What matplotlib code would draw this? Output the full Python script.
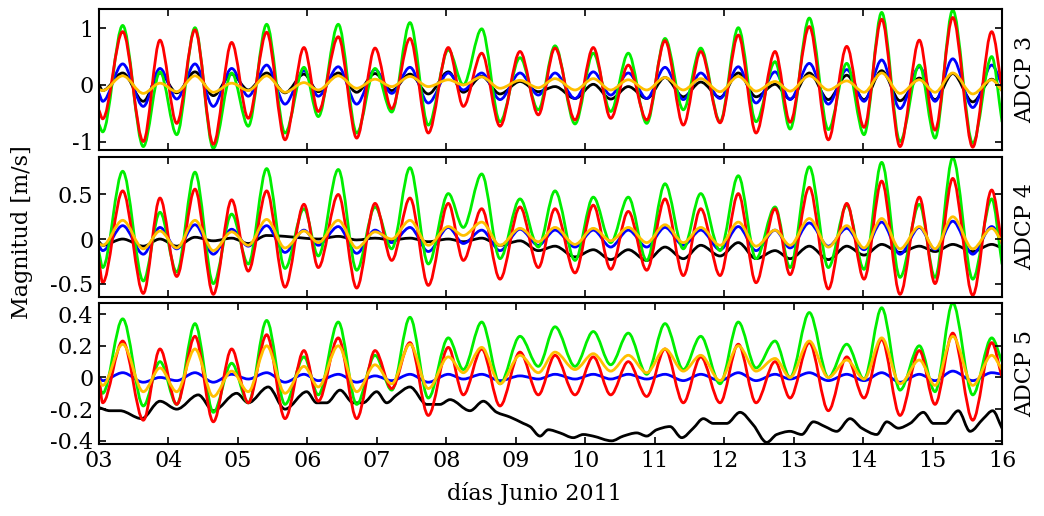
import numpy as np
import matplotlib
matplotlib.use('Agg')
import matplotlib.pyplot as plt
from matplotlib.path import Path
from matplotlib.patches import PathPatch

plt.rcParams['font.family'] = ['DejaVu Serif']
plt.rcParams['axes.unicode_minus'] = False

# ---------------- data (days of June 2011, magnitude in m/s) ----------------
# times of successive tidal extrema (shared by the oscillating series)
t_ext = [3.000, 3.053, 3.341, 3.638, 3.878, 4.119, 4.382, 4.646, 4.910, 5.149, 5.414,
         5.678, 5.951, 6.157, 6.445, 6.710, 6.974, 7.214, 7.477, 7.741, 8.029, 8.245,
         8.510, 8.773, 9.061, 9.325, 9.565, 9.853, 10.116, 10.367, 10.620, 10.885,
         11.149, 11.412, 11.663, 11.941, 12.204, 12.459, 12.733, 12.949, 13.226,
         13.500, 13.765, 14.014, 14.268, 14.532, 14.810, 15.036, 15.291, 15.579,
         15.852, 16.000]

# ADCP 3
G3 = [-0.70, -0.83, 1.05, -1.09, 0.23, -0.88, 1.01, -1.12, 0.21, -0.73, 1.07, -0.85, 0.31,
      -0.56, 1.07, -0.85, 0.29, -0.48, 1.10, -0.71, 0.62, 0.00, 0.99, -0.65, 0.48, -0.44,
      0.69, -0.69, 0.56, -0.47, 0.56, -0.68, 0.82, -0.44, 0.65, -0.65, 1.01, -0.65, 0.41,
      -0.78, 1.18, -0.79, 0.38, -0.88, 1.28, -1.00, 0.35, -0.94, 1.32, -1.03, 0.50, -0.65]
R3 = [-0.45, -0.60, 0.94, -1.00, 0.79, -0.68, 0.97, -1.05, 0.75, -0.59, 0.93, -0.97, 0.66,
      -0.47, 0.85, -0.94, 0.65, -0.42, 0.82, -0.85, 0.66, -0.38, 0.56, -0.73, 0.59, -0.53,
      0.65, -0.62, 0.66, -0.59, 0.35, -0.62, 0.78, -0.71, 0.59, -0.67, 0.88, -0.85, 0.59,
      -0.66, 1.03, -0.97, 0.68, -0.75, 1.16, -1.09, 0.79, -0.80, 1.19, -1.10, 0.94, -0.05]
B3 = [-0.15, -0.29, 0.37, -0.38, 0.29, -0.25, 0.37, -0.38, 0.29, -0.20, 0.35, -0.34, 0.25,
      -0.20, 0.32, -0.34, 0.27, -0.15, 0.31, -0.32, 0.21, -0.09, 0.21, -0.26, 0.21, -0.18,
      0.21, -0.24, 0.23, -0.18, 0.21, -0.24, 0.31, -0.26, 0.21, -0.24, 0.32, -0.32, 0.23,
      -0.26, 0.38, -0.34, 0.27, -0.29, 0.44, -0.42, 0.32, -0.29, 0.46, -0.40, 0.35, 0.00]
K3 = [0.00, -0.10, 0.21, -0.29, 0.21, -0.14, 0.23, -0.19, 0.19, -0.09, 0.21, -0.14, 0.19,
      -0.12, 0.21, -0.13, 0.20, -0.10, 0.19, -0.16, 0.23, -0.13, 0.15, -0.16, 0.06, -0.12,
      -0.03, -0.24, 0.01, -0.25, -0.03, -0.24, 0.13, -0.21, 0.05, -0.22, 0.21, -0.21, 0.01,
      -0.25, 0.21, -0.26, 0.17, -0.26, 0.25, -0.28, 0.12, -0.26, 0.20, -0.30, 0.10, -0.10]
Y3 = [-0.08, -0.10, 0.16, -0.15, 0.03, -0.12, 0.16, -0.13, 0.03, -0.10, 0.16, -0.13, 0.04,
      -0.09, 0.16, -0.06, 0.10, -0.03, 0.15, -0.03, 0.09, 0.00, 0.14, -0.06, 0.08, -0.05,
      0.11, -0.09, 0.11, -0.09, 0.09, -0.09, 0.13, -0.09, 0.11, -0.12, 0.15, -0.11, 0.06,
      -0.11, 0.16, -0.09, 0.07, -0.13, 0.21, -0.15, 0.09, -0.13, 0.21, -0.16, 0.09, -0.10]

# ADCP 4
G4 = [-0.15, -0.32, 0.76, -0.47, 0.30, -0.37, 0.75, -0.50, 0.28, -0.28, 0.79, -0.33, 0.34,
      -0.19, 0.78, -0.35, 0.36, -0.11, 0.80, -0.28, 0.51, 0.13, 0.73, -0.22, 0.45, -0.09,
      0.54, -0.24, 0.47, -0.04, 0.47, -0.24, 0.62, -0.11, 0.51, -0.13, 0.71, -0.22, 0.36,
      -0.32, 0.81, -0.32, 0.38, -0.34, 0.86, -0.43, 0.39, -0.43, 0.91, -0.45, 0.45, -0.28]
R4 = [-0.25, -0.49, 0.54, -0.61, 0.46, -0.42, 0.56, -0.62, 0.44, -0.36, 0.54, -0.54, 0.39,
      -0.32, 0.50, -0.55, 0.40, -0.24, 0.46, -0.52, 0.40, -0.24, 0.34, -0.45, 0.36, -0.32,
      0.34, -0.38, 0.38, -0.34, 0.31, -0.35, 0.45, -0.41, 0.34, -0.41, 0.51, -0.49, 0.34,
      -0.40, 0.58, -0.56, 0.40, -0.45, 0.65, -0.62, 0.47, -0.50, 0.68, -0.63, 0.55, -0.05]
B4 = [-0.08, -0.13, 0.15, -0.17, 0.13, -0.11, 0.16, -0.17, 0.11, -0.08, 0.15, -0.15, 0.10,
      -0.07, 0.14, -0.16, 0.10, -0.04, 0.13, -0.14, 0.13, -0.05, 0.10, -0.13, 0.11, -0.07,
      0.10, -0.09, 0.10, -0.09, 0.10, -0.09, 0.13, -0.07, 0.10, -0.12, 0.14, -0.13, 0.10,
      -0.10, 0.18, -0.08, 0.12, -0.12, 0.19, -0.17, 0.13, -0.12, 0.20, -0.17, 0.14, -0.01]
K4 = [-0.03, -0.07, 0.00, -0.08, 0.00, -0.08, 0.02, -0.02, 0.01, -0.05, 0.04, 0.03, 0.01,
      0.00, 0.03, -0.01, 0.01, -0.01, 0.01, -0.03, 0.00, -0.03, 0.01, -0.07, -0.02, -0.13,
      -0.08, -0.20, -0.12, -0.23, -0.12, -0.24, -0.09, -0.22, -0.07, -0.19, -0.04, -0.22,
      -0.13, -0.22, -0.08, -0.23, -0.08, -0.18, -0.06, -0.15, -0.08, -0.14, -0.06, -0.14,
      -0.06, -0.10]
Y4 = [-0.05, -0.07, 0.21, -0.11, 0.09, -0.10, 0.21, -0.13, 0.08, -0.07, 0.22, -0.10, 0.09,
      -0.04, 0.21, -0.10, 0.08, 0.00, 0.21, -0.07, 0.14, 0.04, 0.19, -0.07, 0.12, -0.03,
      0.13, -0.06, 0.12, -0.02, 0.13, -0.04, 0.16, -0.04, 0.13, -0.07, 0.19, -0.08, 0.10,
      -0.07, 0.23, -0.09, 0.15, -0.10, 0.23, -0.11, 0.14, -0.11, 0.25, -0.11, 0.12, -0.03]

# ADCP 5
G5 = [-0.05, -0.10, 0.37, -0.18, 0.10, -0.17, 0.34, -0.22, 0.09, -0.16, 0.36, -0.17, 0.13,
      -0.11, 0.35, -0.17, 0.14, -0.08, 0.38, -0.13, 0.25, 0.05, 0.35, -0.04, 0.26, 0.07,
      0.32, 0.07, 0.29, 0.08, 0.28, 0.02, 0.34, 0.05, 0.26, -0.04, 0.35, 0.06, 0.23,
      0.00, 0.41, 0.00, 0.21, -0.01, 0.44, -0.08, 0.20, -0.09, 0.47, -0.11, 0.25, 0.10]
R5 = [0.00, -0.16, 0.23, -0.27, 0.18, -0.17, 0.26, -0.28, 0.18, -0.16, 0.27, -0.26, 0.17,
      -0.15, 0.25, -0.26, 0.17, -0.07, 0.22, -0.24, 0.19, -0.11, 0.18, -0.18, 0.16, -0.11,
      0.14, -0.11, 0.13, -0.11, 0.10, -0.12, 0.18, -0.16, 0.13, -0.16, 0.21, -0.16, 0.10,
      -0.13, 0.22, -0.21, 0.13, -0.13, 0.24, -0.24, 0.17, -0.17, 0.28, -0.27, 0.22, 0.00]
B5 = [0.00, -0.02, 0.03, -0.03, 0.00, -0.02, 0.03, -0.03, 0.02, -0.01, 0.03, -0.03, 0.02,
      -0.02, 0.02, -0.03, 0.01, -0.02, 0.02, -0.03, 0.02, -0.01, 0.02, -0.02, 0.01, -0.01,
      0.02, -0.01, 0.02, -0.01, 0.02, -0.01, 0.02, -0.02, 0.02, -0.02, 0.03, -0.02, 0.02,
      -0.01, 0.03, -0.02, 0.02, -0.02, 0.03, -0.03, 0.02, -0.02, 0.04, -0.02, 0.03, 0.02]
Y5 = [-0.02, -0.05, 0.21, -0.09, 0.06, -0.09, 0.18, -0.12, 0.04, -0.09, 0.20, -0.10, 0.07,
      -0.06, 0.20, -0.09, 0.08, -0.04, 0.21, -0.07, 0.13, 0.03, 0.19, -0.04, 0.14, 0.03,
      0.16, 0.05, 0.15, 0.04, 0.14, 0.03, 0.18, 0.04, 0.14, -0.02, 0.20, 0.04, 0.12,
      0.00, 0.23, 0.00, 0.11, -0.01, 0.25, -0.04, 0.11, -0.05, 0.26, -0.05, 0.14, 0.05]
# black series of ADCP 5 (sub-tidal signal, own sampling times)
tK5 = [3.000, 3.158, 3.302, 3.615, 3.878, 4.119, 4.430, 4.646, 4.982, 5.149, 5.437, 5.678,
       5.990, 6.134, 6.278, 6.470, 6.661, 6.801, 6.998, 7.142, 7.286, 7.477, 7.718, 7.909,
       8.053, 8.341, 8.533, 8.726, 8.917, 9.109, 9.205, 9.349, 9.469, 9.637, 9.828, 9.972,
       10.112, 10.381, 10.548, 10.741, 10.885, 11.029, 11.220, 11.389, 11.556, 11.700,
       11.844, 12.037, 12.228, 12.420, 12.613, 12.757, 12.948, 13.117, 13.284, 13.452,
       13.621, 13.812, 13.981, 14.197, 14.341, 14.508, 14.676, 14.868, 15.012, 15.180,
       15.371, 15.540, 15.731, 15.866, 16.000]
K5 = [-0.19, -0.21, -0.21, -0.26, -0.15, -0.20, -0.11, -0.21, -0.10, -0.16, -0.06, -0.20,
      -0.09, -0.16, -0.16, -0.08, -0.16, -0.16, -0.09, -0.16, -0.11, -0.06, -0.17, -0.17,
      -0.14, -0.21, -0.15, -0.22, -0.25, -0.29, -0.31, -0.37, -0.33, -0.35, -0.38, -0.36,
      -0.37, -0.40, -0.37, -0.35, -0.37, -0.33, -0.31, -0.38, -0.32, -0.26, -0.29, -0.29,
      -0.22, -0.30, -0.41, -0.36, -0.34, -0.36, -0.28, -0.31, -0.34, -0.26, -0.32, -0.36,
      -0.28, -0.32, -0.29, -0.22, -0.29, -0.29, -0.21, -0.34, -0.26, -0.21, -0.32]

panel_names = ['ADCP 3', 'ADCP 4', 'ADCP 5']
day_ticks = list(range(3, 17))
day_labels = ['%02d' % d for d in day_ticks]
y_ticks = [[-1, 0, 1], [-0.5, 0, 0.5], [-0.4, -0.2, 0, 0.2, 0.4]]
y_lims = [(-1.15, 1.34), (-0.65, 0.92), (-0.42, 0.47)]

panels = [
    [(t_ext, K3, 'black'), (t_ext, B3, '#0000ff'), (t_ext, G3, '#00ee00'),
     (t_ext, R3, '#ff0000'), (t_ext, Y3, '#ffc000')],
    [(t_ext, K4, 'black'), (t_ext, B4, '#0000ff'), (t_ext, G4, '#00ee00'),
     (t_ext, R4, '#ff0000'), (t_ext, Y4, '#ffc000')],
    [(tK5, K5, 'black'), (t_ext, B5, '#0000ff'), (t_ext, G5, '#00ee00'),
     (t_ext, R5, '#ff0000'), (t_ext, Y5, '#ffc000')],
]


def smooth_line(ax, t, v, color, lw=2.0):
    """Draw a smooth curve through the given points (cubic Bezier path,
    monotone tangents so the extrema stay extrema)."""
    t = np.asarray(t, float)
    v = np.asarray(v, float)
    dt = np.diff(t)
    d = np.diff(v) / dt
    m = np.zeros_like(v)
    m[0], m[-1] = d[0], d[-1]
    for i in range(1, len(v) - 1):
        if d[i - 1] * d[i] > 0:
            m[i] = 2.0 / (1.0 / d[i - 1] + 1.0 / d[i])
    verts = [(t[0], v[0])]
    codes = [Path.MOVETO]
    for i in range(len(t) - 1):
        h = dt[i] / 3.0
        verts += [(t[i] + h, v[i] + m[i] * h),
                  (t[i + 1] - h, v[i + 1] - m[i + 1] * h),
                  (t[i + 1], v[i + 1])]
        codes += [Path.CURVE4] * 3
    ax.add_patch(PathPatch(Path(verts, codes), fill=False, edgecolor=color,
                           lw=lw, capstyle='round', joinstyle='round'))


W, H = 1044, 516
fig = plt.figure(figsize=(W / 100, H / 100), dpi=100)
boxes = [(99, 9, 1002, 150), (99, 157, 1002, 297), (99, 303, 1002, 444)]
FS = 16
axes = []
for k, (x0, y0, x1, y1) in enumerate(boxes):
    ax = fig.add_axes([x0 / W, 1 - y1 / H, (x1 - x0) / W, (y1 - y0) / H])
    axes.append(ax)
    for t, v, c in panels[k]:
        smooth_line(ax, t, v, c)
    ax.set_xlim(3, 16)
    ax.set_ylim(*y_lims[k])
    ax.set_yticks(y_ticks[k])
    ax.set_yticklabels(['%g' % y for y in y_ticks[k]])
    if k < 2:
        ax.set_xticks(day_ticks[1::2])
        ax.set_xticklabels([])
    else:
        ax.set_xticks(day_ticks)
        ax.set_xticklabels(day_labels)
    ax.tick_params(direction='in', top=True, right=True, length=5, width=1.2,
                   labelsize=FS, pad=4)
    for s in ax.spines.values():
        s.set_linewidth(1.5)
    ax.text(1.013, 0.5, panel_names[k], rotation=90, transform=ax.transAxes,
            ha='left', va='center', fontsize=FS)

fig.text(0.021, 0.55, 'Magnitud [m/s]', rotation=90, ha='center', va='center',
         fontsize=FS)
fig.text(0.512, 0.043, 'días Junio 2011', ha='center', va='center', fontsize=FS)

fig.savefig('out.png', dpi=100)
